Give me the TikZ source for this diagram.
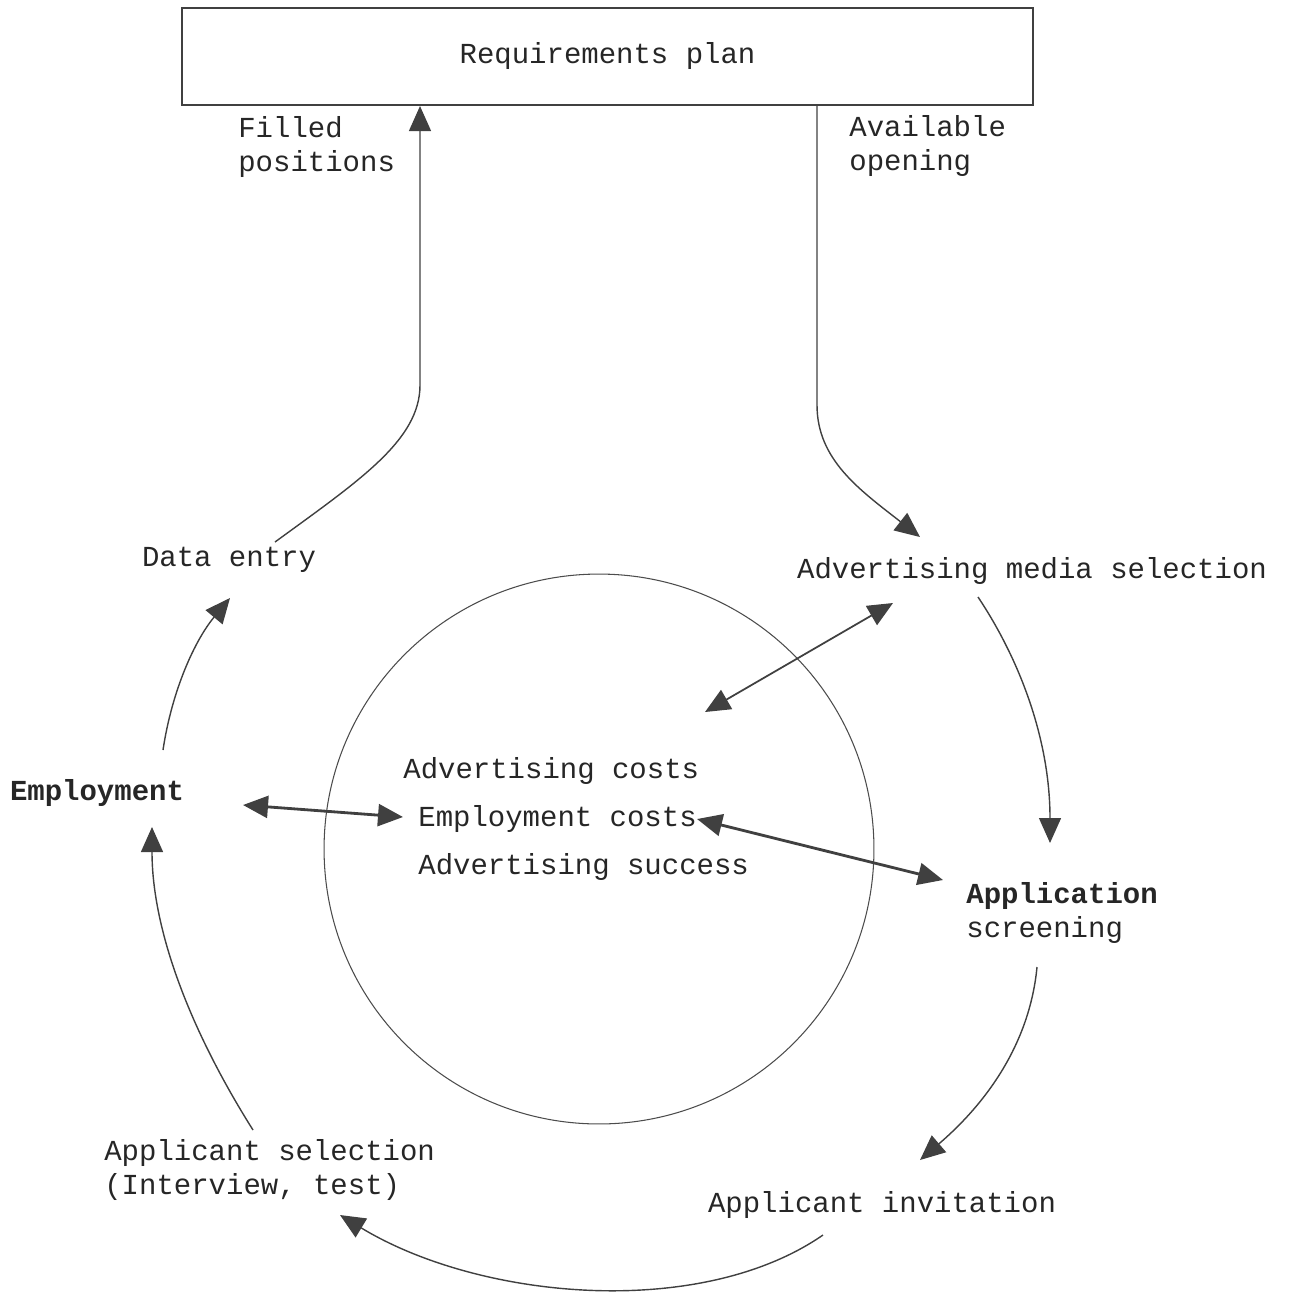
\documentclass[tikz,border=0pt]{standalone}
\usepackage{fontspec}
\setmainfont{Liberation Mono}
\usepackage{tikz}
\usetikzlibrary{arrows.meta}

\begin{document}
\begin{tikzpicture}[x=0.02cm,y=-0.02cm,
    >={Triangle[length=0.5cm,width=0.44cm]},
    lbl/.style={font=\fontsize{16.5}{19}\selectfont,text=black!85,inner sep=0pt},
    flow/.style={draw=black!75,line width=0.8pt,->},
    both/.style={draw=black!75,line width=1.6pt,<->}]
                \useasboundingbox (0,0) rectangle (1300,1295);
                % Plan box
                \node[lbl,draw=black!75,line width=1.2pt,minimum width=17.02cm,minimum height=1.94cm](plan) at (607.5,56.5){Requirements plan};
                \node[lbl,align=left,anchor=west](filled) at (238,147){Filled\\positions};
                \node[lbl,align=left,anchor=west](avail) at (849,146){Available\\opening};
                % Cycle steps
                \node[lbl](data) at (229,560){Data entry};
                \node[lbl](media) at (1032,571){Advertising media selection};
                \node[lbl,font=\fontsize{16.5}{19}\selectfont\bfseries](employ) at (97,793){Employment};
                \node[lbl,align=left,anchor=west](screen) at (966,913){{\bfseries Application}\\screening};
                \node[lbl](invite) at (882,1205){Applicant invitation};
                \node[lbl,align=left,anchor=west](select) at (104,1170){Applicant selection\\(Interview, test)};
                % Database circle
                \node[circle,draw=black!70,line width=0.6pt,minimum size=11cm,inner sep=0pt](core) at (599,849){};
                \node[lbl,anchor=west](advcost) at (403,771){Advertising costs};
                \node[lbl,anchor=west](empcost) at (418,819){Employment costs};
                \node[lbl,anchor=west](advsucc) at (418,867){Advertising success};
                % Connector ends
                \coordinate(fp) at (420,385);
                \coordinate(ao) at (817,405);
                \coordinate(dataout) at (275,542);
                \coordinate(mediain) at (920,537);
                \coordinate(mediaout) at (978,597);
                \coordinate(mediatip) at (893,603);
                \coordinate(coretip) at (705,712);
                \coordinate(screenin) at (1050,843);
                \coordinate(screentip) at (943,880);
                \coordinate(screenout) at (1037,967);
                \coordinate(invitein) at (920,1160);
                \coordinate(inviteout) at (823,1235);
                \coordinate(selectin) at (340,1215);
                \coordinate(selectout) at (253,1130);
                \coordinate(employin) at (152,827);
                \coordinate(employout) at (163,750);
                \coordinate(employtip) at (243,805);
                \coordinate(costtip) at (403,817);
                \coordinate(datain) at (230,598);
                % Flows to and from the plan
                \draw[flow](dataout) .. controls (360,480) and (420,440) .. (fp) -- (plan.south -| fp);
                \draw[flow](plan.south -| ao) -- (ao) .. controls (817,460) and (860,490) .. (mediain);
                % Cycle
                \draw[flow](mediaout) .. controls (1020,660) and (1050,740) .. (screenin);
                \draw[flow](screenout) .. controls (1030,1040) and (990,1100) .. (invitein);
                \draw[flow](inviteout) .. controls (700,1320) and (480,1300) .. (selectin);
                \draw[flow](selectout) .. controls (190,1030) and (152,930) .. (employin);
                \draw[flow](employout) .. controls (172,690) and (195,640) .. (datain);
                % Data exchange
                \draw[both,line width=1pt](mediatip) -- (coretip);
                \draw[both](empcost.east) -- (screentip);
                \draw[both](employtip) -- (costtip);
\end{tikzpicture}
\end{document}
